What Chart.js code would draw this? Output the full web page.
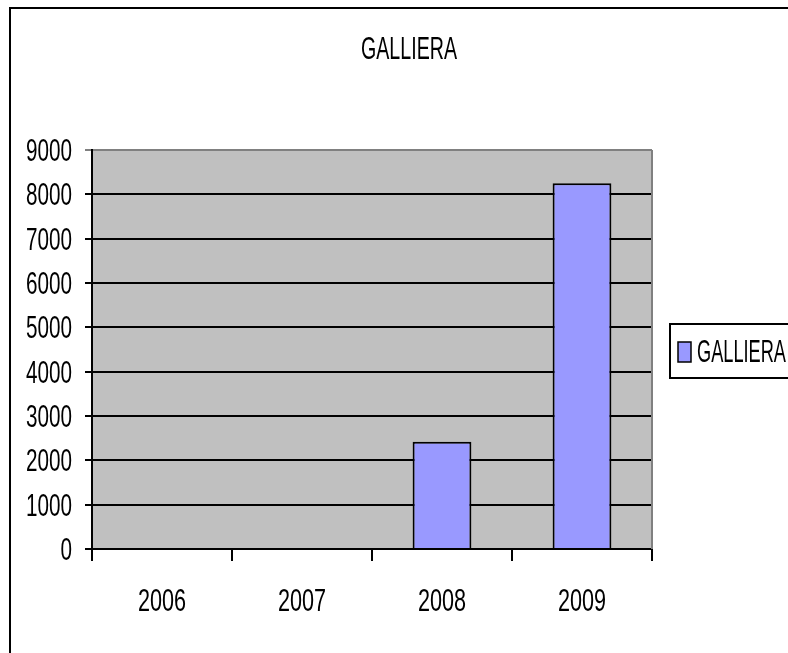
<!DOCTYPE html>
<html>
<head>
<meta charset="utf-8">
<script src="https://cdn.jsdelivr.net/npm/chart.js@4/dist/chart.umd.min.js"></script>
<style>
  html, body { margin: 0; padding: 0; background: #fff; overflow: hidden; }
  #wrap { width: 788px; height: 653px; position: relative; }
</style>
</head>
<body>
<div id="wrap"><canvas id="chart" width="788" height="653"></canvas></div>
<script>
const chartTitle = "GALLIERA";
const years = ["2006", "2007", "2008", "2009"];
const galliera = [0, 0, 2420, 8250];
const yTicks = [0, 1000, 2000, 3000, 4000, 5000, 6000, 7000, 8000, 9000];

const fontFam = "'Liberation Sans', Arial, sans-serif";

// the original text is tall and narrow: draw it with a given cap height, squeezed sideways
function tallText(ctx, text, x, yBottom, capH, sx, align) {
  ctx.save();
  ctx.font = (capH / 0.716).toFixed(1) + "px " + fontFam;
  ctx.translate(x, yBottom);
  ctx.scale(sx, 1);
  ctx.textBaseline = "alphabetic";
  ctx.textAlign = align;
  ctx.fillStyle = "#000";
  ctx.fillText(text, 0, 0);
  ctx.restore();
}

function squeezeFor(ctx, sample, capH, targetW) {
  ctx.save();
  ctx.font = (capH / 0.716).toFixed(1) + "px " + fontFam;
  const w = ctx.measureText(sample).width;
  ctx.restore();
  return targetW / w;
}

const decorations = {
  id: "decorations",
  beforeDraw(chart) {
    const ctx = chart.ctx;
    const a = chart.chartArea;
    ctx.save();
    ctx.fillStyle = "#C0C0C0";
    ctx.fillRect(a.left, a.top, a.right - a.left, a.bottom - a.top);
    ctx.restore();
  },
  afterDatasetsDraw(chart) {
    const ctx = chart.ctx;
    const a = chart.chartArea;
    ctx.save();
    ctx.strokeStyle = "#808080";
    ctx.lineWidth = 2;
    ctx.beginPath();
    ctx.moveTo(a.right, a.top);
    ctx.lineTo(a.right, a.bottom);
    ctx.stroke();
    ctx.restore();
  },
  afterDraw(chart) {
    const ctx = chart.ctx;
    ctx.save();
    // outer frame
    ctx.strokeStyle = "#000";
    ctx.lineWidth = 2;
    ctx.beginPath();
    ctx.moveTo(10, 660);
    ctx.lineTo(10, 8);
    ctx.lineTo(800, 8);
    ctx.stroke();

    // tick labels, placed by the scales
    const sxNum = squeezeFor(ctx, "2006", 22, 46);
    const ys = chart.scales.y;
    ys.ticks.forEach((t, i) => {
      tallText(ctx, String(t.value), ys.right - 20, ys.getPixelForTick(i) + 11, 22, sxNum, "right");
    });
    const xs = chart.scales.x;
    xs.ticks.forEach((t, i) => {
      tallText(ctx, chart.data.labels[i], xs.getPixelForTick(i), 611, 23, sxNum, "center");
    });

    // title
    const sxTitle = squeezeFor(ctx, chartTitle, 22, 96);
    tallText(ctx, chartTitle, 409, 59, 22, sxTitle, "center");

    // legend
    const ds = chart.data.datasets[0];
    ctx.lineWidth = 2;
    ctx.strokeStyle = "#000";
    ctx.strokeRect(670, 324, 140, 54);
    ctx.fillStyle = ds.backgroundColor;
    ctx.fillRect(678, 342, 13, 20);
    ctx.lineWidth = 1.5;
    ctx.strokeRect(678, 342, 13, 20);
    const sxLeg = squeezeFor(ctx, ds.label, 23, 89);
    tallText(ctx, ds.label, 697, 362, 23, sxLeg, "left");
    ctx.restore();
  }
};

new Chart(document.getElementById("chart"), {
  type: "bar",
  data: {
    labels: years,
    datasets: [{
      label: "GALLIERA",
      data: galliera,
      backgroundColor: "#9999FF",
      borderColor: "#000",
      borderWidth: 2,
      barPercentage: 0.42,
      categoryPercentage: 1.0
    }]
  },
  options: {
    responsive: false,
    animation: false,
    layout: { padding: { left: 0, top: 150, right: 136, bottom: 0 } },
    plugins: {
      legend: { display: false },
      title: { display: false },
      tooltip: { enabled: false }
    },
    scales: {
      x: {
        afterFit(scale) { scale.height = 104; },
        grid: {
          offset: true,
          drawOnChartArea: false,
          drawTicks: true,
          tickLength: 12,
          color: "#000",
          lineWidth: 2
        },
        border: { color: "#000", width: 2 },
        ticks: { display: false }
      },
      y: {
        min: 0,
        max: 9000,
        afterFit(scale) { scale.width = 92; },
        afterBuildTicks(scale) { scale.ticks = yTicks.map(v => ({ value: v })); },
        grid: {
          color: ctx => (ctx.tick && ctx.tick.value === 9000) ? "#808080" : "#000",
          lineWidth: 2,
          tickLength: 7
        },
        border: { color: "#000", width: 2 },
        ticks: { display: false }
      }
    }
  },
  plugins: [decorations]
});
</script>
</body>
</html>
